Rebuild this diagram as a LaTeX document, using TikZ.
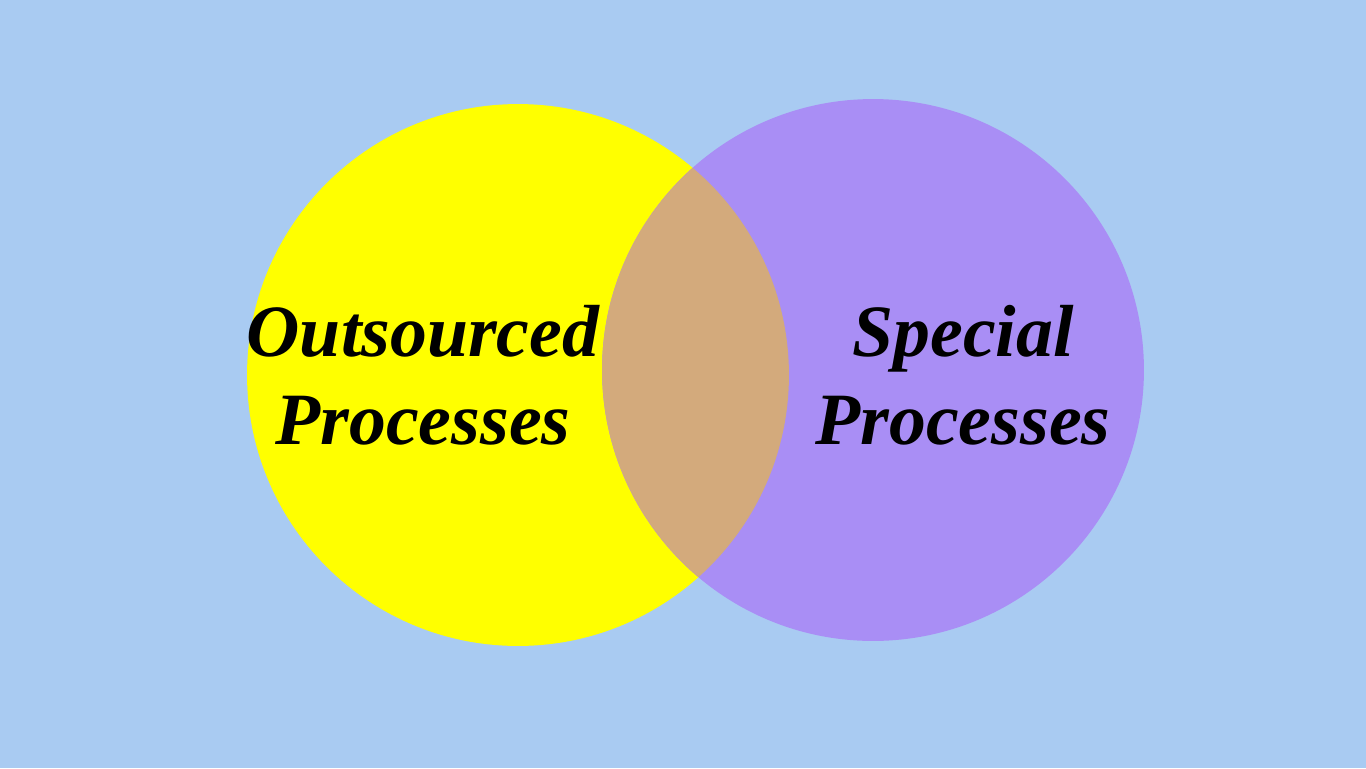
\documentclass[tikz,border=0pt]{standalone}
\usepackage{fontspec}
\setmainfont{Liberation Serif}
\definecolor{skyback}{HTML}{A9CBF2}
\definecolor{leftfill}{HTML}{FFFF00}
\definecolor{rightfill}{HTML}{A98EF5}
\definecolor{midfill}{HTML}{D3AA7C}
\tikzset{
  setlabel/.style={align=center, font=\fontsize{42}{50}\selectfont\bfseries\itshape, text=black}
}
\begin{document}
\begin{tikzpicture}[x=0.02cm, y=-0.02cm]
\fill[skyback] (0,0) rectangle (1366,768);
\useasboundingbox (0,0) rectangle (1366,768);

\fill[leftfill] (518,375) circle[radius=5.42cm];
\fill[rightfill] (873,370) circle[radius=5.42cm];
\begin{scope}
\clip (518,375) circle[radius=5.42cm];
\fill[midfill] (873,370) circle[radius=5.42cm];
\end{scope}

\node[setlabel] (outsrc) at (423,375) {Outsourced\\Processes};
\node[setlabel] (special) at (963,375) {Special\\Processes};
\end{tikzpicture}
\end{document}
